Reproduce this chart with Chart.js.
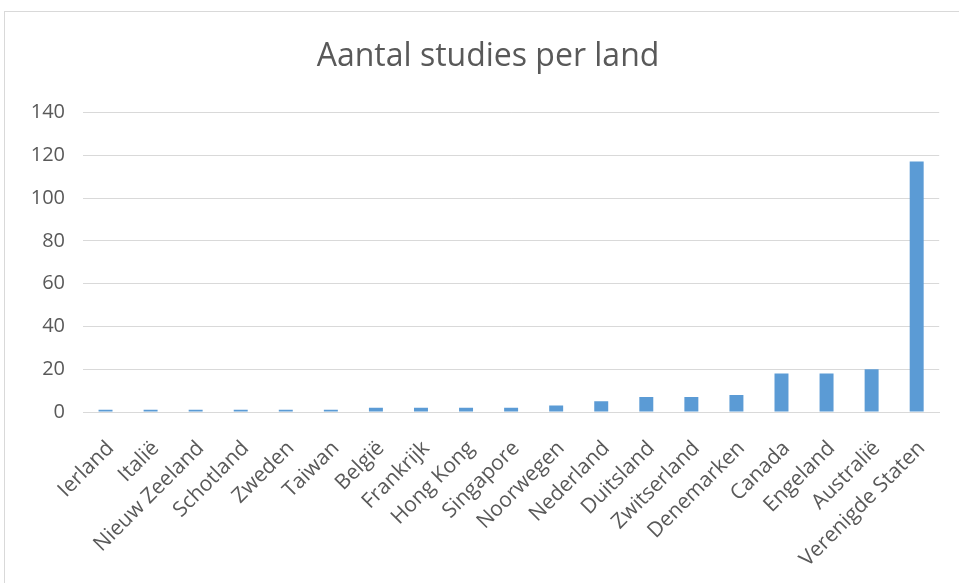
<!DOCTYPE html>
<html>
<head>
<meta charset="utf-8">
<script src="https://cdn.jsdelivr.net/npm/chart.js@4.4.1/dist/chart.umd.min.js"></script>
<style>
  html, body { margin: 0; padding: 0; background: #ffffff; }
  #frame {
    position: absolute; left: 4px; top: 11px; width: 960px; height: 580px;
    border: 1px solid #d9d9d9; box-sizing: border-box;
  }
  #wrap { position: absolute; left: 0; top: 0; width: 959px; height: 583px; }
</style>
</head>
<body>
<div id="frame"></div>
<div id="wrap"><canvas id="landChart"></canvas></div>
<script>
// Number of studies per country
const countries = [
  'Ierland', 'Italië', 'Nieuw Zeeland', 'Schotland', 'Zweden', 'Taiwan',
  'België', 'Frankrijk', 'Hong Kong', 'Singapore', 'Noorwegen', 'Nederland',
  'Duitsland', 'Zwitserland', 'Denemarken', 'Canada', 'Engeland', 'Australië',
  'Verenigde Staten'
];

const studies = [1, 1, 1, 1, 1, 1, 2, 2, 2, 2, 3, 5, 7, 7, 8, 18, 18, 20, 117];

const yMax = 140;
const yStep = 20;

const textColor = '#595959';
const gridColor = '#d9d9d9';

// the original title is centred a bit right of the canvas centre,
// so nudge the title box after layout instead of padding the whole chart
const titleShift = {
  id: 'titleShift',
  afterLayout(chart) {
    if (chart.titleBlock) chart.titleBlock.left += 36;
  }
};

const ctx = document.getElementById('landChart').getContext('2d');

new Chart(ctx, {
  type: 'bar',
  data: {
    labels: countries,
    datasets: [{
      label: 'Aantal studies',
      data: studies,
      backgroundColor: '#5b9bd5',
      categoryPercentage: 1,
      barPercentage: 0.31
    }]
  },
  options: {
    responsive: true,
    maintainAspectRatio: false,
    animation: false,
    layout: { padding: { left: 0, right: 19, top: 0, bottom: 0 } },
    plugins: {
      legend: { display: false },
      tooltip: { enabled: false },
      title: {
        display: true,
        text: 'Aantal studies per land',
        color: textColor,
        font: { family: 'Open Sans', size: 32, weight: 'normal' },
        padding: { top: 38, bottom: 36 }
      }
    },
    scales: {
      x: {
        grid: { display: false, drawTicks: false },
        border: { color: gridColor },
        ticks: {
          color: textColor,
          font: { family: 'Open Sans', size: 21 },
          maxRotation: 45,
          minRotation: 45,
          padding: 24,
          labelOffset: 5,
          autoSkip: false
        },
        afterFit: s => { s.height = 171; }
      },
      y: {
        min: 0,
        max: yMax,
        grid: { color: gridColor, drawTicks: false },
        border: { display: false },
        ticks: {
          stepSize: yStep,
          color: textColor,
          font: { family: 'Open Sans', size: 20 },
          padding: 18
        },
        afterFit: s => { s.width = 83; }
      }
    }
  },
  plugins: [titleShift]
});
</script>
</body>
</html>
